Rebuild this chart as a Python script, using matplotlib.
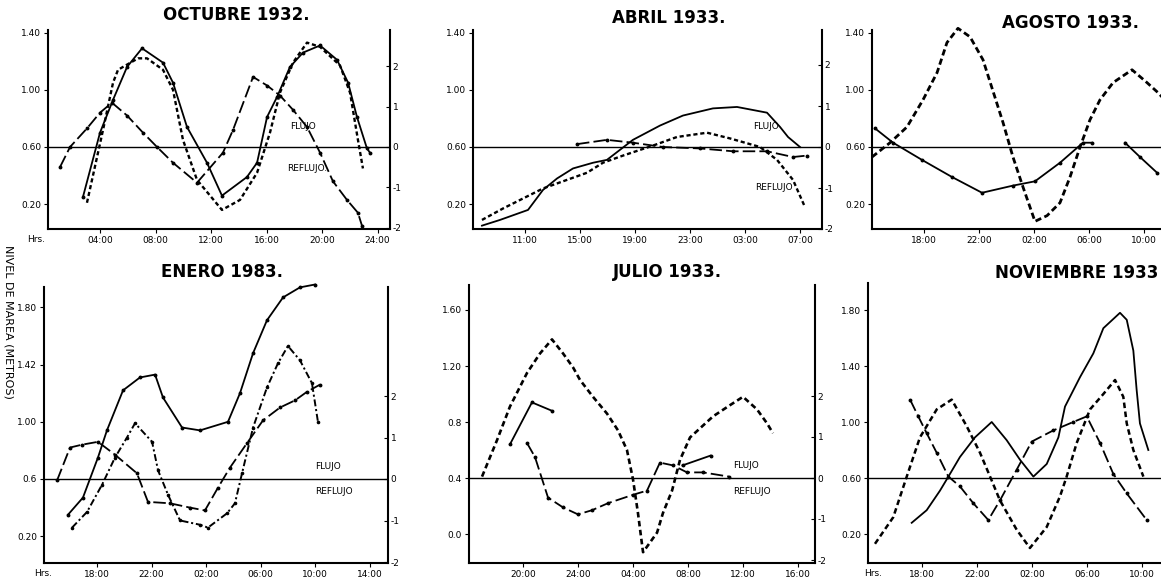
import matplotlib
matplotlib.use("Agg")
import matplotlib.pyplot as plt

plt.rcParams['font.family'] = ['DejaVu Sans']
plt.rcParams['lines.scale_dashes'] = False

# ---------------- DATA (hours, metres) ----------------
# OCTUBRE 1932
oct_solid_h = [2.77, 4.00, 4.94, 5.95, 7.03, 8.54, 9.26, 10.27, 11.71, 12.79, 14.59, 15.32, 16.04, 16.76, 17.69, 18.63, 19.86, 21.08, 21.88, 22.52, 23.24, 23.46]
oct_solid_v = [0.25, 0.70, 0.93, 1.16, 1.29, 1.19, 1.05, 0.74, 0.49, 0.26, 0.39, 0.49, 0.81, 0.95, 1.16, 1.26, 1.31, 1.21, 1.05, 0.81, 0.59, 0.56]
oct_dash_h = [3.06, 4.22, 4.94, 5.30, 6.74, 7.39, 8.54, 9.26, 9.98, 10.99, 12.79, 14.09, 15.32, 16.25, 16.97, 17.91, 18.92, 19.86, 21.30, 22.02, 22.59, 22.95]
oct_dash_v = [0.21, 0.72, 1.05, 1.14, 1.22, 1.22, 1.14, 1.00, 0.65, 0.37, 0.16, 0.23, 0.42, 0.70, 0.98, 1.19, 1.33, 1.30, 1.17, 0.98, 0.65, 0.45]
oct_long_h = [1.12, 1.84, 3.06, 4.00, 4.86, 5.95, 7.10, 8.11, 9.26, 10.99, 12.86, 13.59, 15.03, 16.04, 16.97, 17.91, 18.92, 19.86, 20.79, 21.80, 22.59, 22.88]
oct_long_v = [0.46, 0.60, 0.73, 0.84, 0.91, 0.82, 0.70, 0.60, 0.49, 0.35, 0.56, 0.72, 1.09, 1.03, 0.96, 0.86, 0.74, 0.56, 0.36, 0.23, 0.14, 0.05]

# ABRIL 1933
abr_solid_h = [7.87, 9.18, 11.22, 12.31, 13.33, 14.49, 15.95, 16.96, 18.85, 20.82, 22.49, 24.67, 26.42, 28.60, 29.55, 30.13, 31.00]
abr_solid_v = [0.05, 0.09, 0.16, 0.30, 0.38, 0.45, 0.49, 0.51, 0.65, 0.75, 0.82, 0.87, 0.88, 0.84, 0.74, 0.67, 0.60]
abr_dash_h = [7.87, 9.40, 12.31, 14.05, 15.51, 16.67, 18.13, 20.31, 22.05, 24.24, 25.91, 28.09, 29.33, 30.49, 31.36]
abr_dash_v = [0.09, 0.17, 0.31, 0.37, 0.42, 0.49, 0.54, 0.61, 0.67, 0.70, 0.66, 0.60, 0.51, 0.37, 0.18]
abr_long_h = [14.78, 16.96, 18.85, 21.04, 23.73, 26.13, 28.60, 30.49, 31.51]
abr_long_v = [0.62, 0.65, 0.63, 0.60, 0.59, 0.57, 0.57, 0.53, 0.54]

# AGOSTO 1933
ago_dash_h = [14.22, 15.53, 16.76, 17.93, 18.95, 19.67, 20.47, 21.35, 22.29, 23.02, 23.75, 24.47, 25.20, 26.07, 26.95, 27.89, 28.62, 29.35, 30.07, 30.80, 31.75, 33.13, 34.22, 35.02, 35.50]
ago_dash_v = [0.53, 0.63, 0.74, 0.93, 1.12, 1.33, 1.43, 1.37, 1.21, 0.99, 0.77, 0.53, 0.32, 0.08, 0.12, 0.21, 0.39, 0.60, 0.79, 0.93, 1.05, 1.14, 1.05, 0.98, 0.93]
ago_solid_h = [14.44, 15.75, 17.85, 20.04, 22.22, 24.47, 26.07, 27.89, 29.56, 30.22]
ago_solid_v = [0.73, 0.63, 0.51, 0.39, 0.28, 0.33, 0.36, 0.49, 0.63, 0.63]
ago_solid2_h = [32.62, 33.71, 34.95]
ago_solid2_v = [0.63, 0.53, 0.42]

# ENERO 1983
ene_solid_h = [15.87, 16.97, 18.07, 18.73, 19.91, 21.15, 22.26, 22.84, 24.24, 25.56, 27.61, 28.49, 29.45, 30.47, 31.65, 32.89, 33.99]
ene_solid_v = [0.35, 0.47, 0.75, 0.94, 1.22, 1.31, 1.33, 1.17, 0.96, 0.94, 1.00, 1.20, 1.48, 1.71, 1.87, 1.94, 1.96]
ene_long_h = [15.07, 16.02, 16.90, 18.07, 19.32, 20.93, 21.74, 23.36, 24.82, 25.92, 26.88, 27.76, 29.00, 30.18, 31.43, 32.53, 33.41, 34.36]
ene_long_v = [0.59, 0.82, 0.84, 0.86, 0.77, 0.64, 0.44, 0.43, 0.40, 0.38, 0.54, 0.68, 0.85, 1.01, 1.10, 1.15, 1.21, 1.26]
ene_dot_h = [16.17, 17.27, 18.37, 19.32, 20.20, 20.79, 22.04, 22.48, 23.21, 24.09, 25.56, 26.14, 27.54, 28.12, 28.64, 29.45, 30.47, 31.28, 32.01, 32.89, 33.77, 34.21]
ene_dot_v = [0.26, 0.37, 0.56, 0.75, 0.89, 0.99, 0.86, 0.66, 0.49, 0.31, 0.28, 0.26, 0.36, 0.43, 0.64, 0.96, 1.24, 1.41, 1.53, 1.43, 1.27, 1.00]

# JULIO 1933
jul_dash_h = [17.02, 18.11, 19.05, 20.29, 21.24, 22.11, 22.91, 23.64, 24.15, 25.09, 26.11, 26.91, 27.56, 28.00, 28.36, 28.73, 29.75, 30.18, 30.84, 31.42, 32.15, 33.82, 35.05, 36.00, 37.02, 37.75, 38.18]
jul_dash_v = [0.41, 0.67, 0.91, 1.15, 1.29, 1.39, 1.29, 1.19, 1.10, 0.98, 0.86, 0.74, 0.60, 0.39, 0.15, -0.13, 0.01, 0.15, 0.31, 0.53, 0.69, 0.84, 0.92, 0.98, 0.89, 0.79, 0.72]
jul_solid_h = [19.05, 20.65, 22.11]
jul_solid_v = [0.64, 0.94, 0.88]
jul_long_h = [20.29, 20.87, 21.82, 22.91, 24.00, 25.02, 26.18, 28.00, 29.02, 29.96, 30.91, 31.93, 33.09, 34.98]
jul_long_v = [0.65, 0.55, 0.26, 0.19, 0.14, 0.17, 0.22, 0.28, 0.31, 0.51, 0.49, 0.44, 0.44, 0.41]
jul_solid2_h = [31.60, 33.64]
jul_solid2_v = [0.49, 0.56]

# NOVIEMBRE 1933
nov_solid_h = [17.25, 18.34, 19.31, 19.92, 20.76, 21.85, 23.07, 24.16, 25.13, 26.10, 27.07, 27.92, 28.40, 29.49, 30.46, 31.19, 32.40, 32.89, 33.37, 33.61, 33.85, 34.46]
nov_solid_v = [0.28, 0.37, 0.51, 0.61, 0.75, 0.89, 1.00, 0.87, 0.73, 0.61, 0.70, 0.89, 1.11, 1.32, 1.49, 1.67, 1.78, 1.73, 1.51, 1.23, 0.99, 0.80]
nov_dash_h = [14.58, 15.91, 16.89, 17.85, 19.07, 20.16, 21.25, 22.22, 22.95, 23.67, 24.89, 25.85, 27.07, 28.04, 28.52, 29.25, 30.22, 31.19, 32.04, 32.64, 32.89, 33.37, 34.10]
nov_dash_v = [0.13, 0.32, 0.61, 0.89, 1.09, 1.16, 0.97, 0.78, 0.61, 0.44, 0.23, 0.10, 0.25, 0.47, 0.61, 0.85, 1.09, 1.20, 1.30, 1.18, 0.99, 0.80, 0.61]
nov_long_h = [17.13, 17.73, 18.34, 19.07, 19.92, 20.76, 21.73, 22.82, 23.67, 24.89, 25.98, 27.55, 29.00, 29.98, 30.95, 31.91, 32.89, 34.34]
nov_long_v = [1.16, 1.04, 0.92, 0.78, 0.61, 0.54, 0.42, 0.30, 0.44, 0.66, 0.86, 0.94, 1.00, 1.04, 0.85, 0.63, 0.49, 0.30]

# Ticks
top_left_ticks = [1.40, 1.00, 0.60, 0.20]
top_left_labels = ["1.40", "1.00", "0.60", "0.20"]
ene_left_ticks = [1.80, 1.40, 1.00, 0.60, 0.20]
ene_left_labels = ["1.80", "1.42", "1.00", "0.6", "0.20"]
jul_left_ticks = [1.60, 1.20, 0.80, 0.40, 0.00]
jul_left_labels = ["1.60", "1.20", "0.8", "0.4", "0.0"]
nov_left_ticks = [1.80, 1.40, 1.00, 0.60, 0.20]
nov_left_labels = ["1.80", "1.40", "1.00", "0.60", "0.20"]
right_ticks = [-2, -1, 0, 1, 2]
right_labels = ["-2", "-1", "0", "1", "2"]

oct_xt = [4, 8, 12, 16, 20, 24]
oct_xl = ["04:00", "08:00", "12:00", "16:00", "20:00", "24:00"]
abr_xt = [11, 15, 19, 23, 27, 31]
abr_xl = ["11:00", "15:00", "19:00", "23:00", "03:00", "07:00"]
ago_xt = [18, 22, 26, 30, 34]
ago_xl = ["18:00", "22:00", "02:00", "06:00", "10:00"]
ene_xt = [18, 22, 26, 30, 34, 38]
ene_xl = ["18:00", "22:00", "02:00", "06:00", "10:00", "14:00"]
jul_xt = [20, 24, 28, 32, 36, 40]
jul_xl = ["20:00", "24:00", "04:00", "08:00", "12:00", "16:00"]
nov_xt = [18, 22, 26, 30, 34]
nov_xl = ["18:00", "22:00", "02:00", "06:00", "10:00"]

# ---------------- FIGURE ----------------
W, H = 1161, 582
fig = plt.figure(figsize=(W / 100, H / 100), dpi=100)
fig.patch.set_facecolor('white')
FS = 6.5


def panel(l, r, t, b, xref_px, xref_h, pxh, zero_px, zero_m, pxm, right_pxu,
          yt, yl, xt, xl):
    ax = fig.add_axes([l / W, 1 - b / H, (r - l) / W, (b - t) / H])
    ax.set_xlim(xref_h + (l - xref_px) / pxh, xref_h + (r - xref_px) / pxh)
    ylo = zero_m - (b - zero_px) / pxm
    yhi = zero_m + (zero_px - t) / pxm
    ax.set_ylim(ylo, yhi)
    ax.patch.set_alpha(0)
    ax.spines['top'].set_visible(False)
    ax.spines['right'].set_visible(False)
    for s in ('left', 'bottom'):
        ax.spines[s].set_linewidth(1.5)
    ax.set_yticks(yt)
    ax.set_yticklabels(yl)
    ax.set_xticks(xt)
    ax.set_xticklabels(xl)
    ax.tick_params(labelsize=FS, length=3, width=0.8, pad=2)
    ax.axhline(zero_m, color='k', lw=1.0, zorder=1)
    if right_pxu:
        k = pxm / right_pxu
        tw = ax.twinx()
        tw.set_ylim((ylo - zero_m) * k, (yhi - zero_m) * k)
        for s in ('left', 'top', 'bottom'):
            tw.spines[s].set_visible(False)
        tw.spines['right'].set_linewidth(1.5)
        tw.set_yticks(right_ticks)
        tw.set_yticklabels(right_labels)
        tw.tick_params(labelsize=FS, length=3, width=0.8, pad=2, direction='in')
    return ax


def solid(ax, h, v, dots=True):
    ax.plot(h, v, color='k', lw=1.3, marker='o' if dots else None, ms=1.8,
            clip_on=False, zorder=3)


def dashed(ax, h, v, lw=1.7, d=(3, 2)):
    ax.plot(h, v, color='k', lw=lw, dashes=d, clip_on=False, zorder=3)


def longdash(ax, h, v):
    ax.plot(h, v, color='k', lw=1.3, dashes=(9, 3), marker='o', ms=1.8,
            clip_on=False, zorder=3)


def dashdot(ax, h, v):
    ax.plot(h, v, color='k', lw=1.4, dashes=(5, 2, 1.5, 2), marker='o', ms=1.6,
            clip_on=False, zorder=3)


# OCTUBRE 1932
a1 = panel(48, 390, 30, 229, 100, 4, 13.875, 147, 0.60, 143, 40.5,
           top_left_ticks, top_left_labels, oct_xt, oct_xl)
solid(a1, oct_solid_h, oct_solid_v)
dashed(a1, oct_dash_h, oct_dash_v)
longdash(a1, oct_long_h, oct_long_v)
a1.text(17.7, 0.74, "FLUJO", fontsize=FS, va='center')
a1.text(17.5, 0.45, "REFLUJO.", fontsize=FS, va='center')

# ABRIL 1933
a2 = panel(473, 822, 30, 229, 525, 11, 13.75, 147, 0.60, 143, 41,
           top_left_ticks, top_left_labels, abr_xt, abr_xl)
solid(a2, abr_solid_h, abr_solid_v, dots=False)
dashed(a2, abr_dash_h, abr_dash_v)
longdash(a2, abr_long_h, abr_long_v)
a2.text(27.6, 0.74, "FLUJO", fontsize=FS, va='center')
a2.text(27.7, 0.32, "REFLUJO", fontsize=FS, va='center')

# AGOSTO 1933
a3 = panel(872, 1200, 30, 229, 924, 18, 13.75, 147, 0.60, 143, None,
           top_left_ticks, top_left_labels, ago_xt, ago_xl)
dashed(a3, ago_dash_h, ago_dash_v, lw=2.0, d=(4.5, 2.5))
solid(a3, ago_solid_h, ago_solid_v)
solid(a3, ago_solid2_h, ago_solid2_v)

# ENERO 1983
a4 = panel(44, 388, 287, 563, 97, 18, 13.63, 479, 0.60, 143, 41.5,
           ene_left_ticks, ene_left_labels, ene_xt, ene_xl)
solid(a4, ene_solid_h, ene_solid_v)
longdash(a4, ene_long_h, ene_long_v)
dashdot(a4, ene_dot_h, ene_dot_v)
a4.text(34.0, 0.684, "FLUJO", fontsize=FS, va='center')
a4.text(34.0, 0.51, "REFLUJO", fontsize=FS, va='center')

# JULIO 1933
a5 = panel(469, 815, 285, 563, 523, 20, 13.75, 478, 0.40, 140, 41,
           jul_left_ticks, jul_left_labels, jul_xt, jul_xl)
dashed(a5, jul_dash_h, jul_dash_v, lw=1.9, d=(4, 2.5))
solid(a5, jul_solid_h, jul_solid_v)
longdash(a5, jul_long_h, jul_long_v)
solid(a5, jul_solid2_h, jul_solid2_v)
a5.text(35.3, 0.49, "FLUJO", fontsize=FS, va='center')
a5.text(35.3, 0.30, "REFLUJO", fontsize=FS, va='center')

# NOVIEMBRE 1933
a6 = panel(868, 1200, 283, 563, 922, 18, 13.75, 478, 0.60, 140, None,
           nov_left_ticks, nov_left_labels, nov_xt, nov_xl)
solid(a6, nov_solid_h, nov_solid_v, dots=False)
dashed(a6, nov_dash_h, nov_dash_v, lw=1.8, d=(4, 2.5))
longdash(a6, nov_long_h, nov_long_v)

# Titles
titles = [("OCTUBRE 1932.", 236, 15), ("ABRIL 1933.", 669, 18),
          ("AGOSTO 1933.", 1070, 23), ("ENERO 1983.", 222, 272),
          ("JULIO 1933.", 667, 272), ("NOVIEMBRE 1933", 1077, 273)]
for txt, x, y in titles:
    fig.text(x / W, 1 - y / H, txt, ha='center', va='center',
             fontsize=12, fontweight='bold')

# Hrs labels
for x, y in [(36, 240), (43, 574), (873, 574)]:
    fig.text(x / W, 1 - y / H, "Hrs.", ha='center', va='center', fontsize=FS)

fig.text(8 / W, 1 - 322 / H, "NIVEL DE MAREA (METROS)", rotation=-90,
         ha='center', va='center', fontsize=8)

fig.savefig("out.png", dpi=100, facecolor='white')
